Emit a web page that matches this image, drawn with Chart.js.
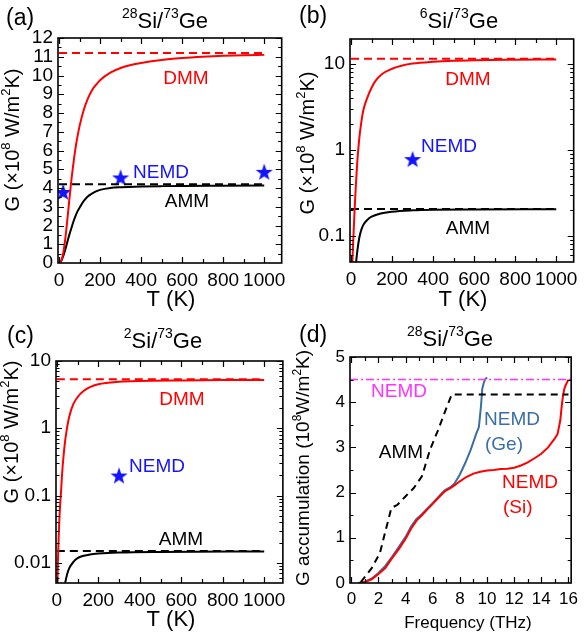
<!DOCTYPE html>
<html>
<head>
<meta charset="utf-8">
<script src="https://cdn.jsdelivr.net/npm/chart.js@4.4.1/dist/chart.umd.min.js"></script>
<style>
  html, body { margin: 0; padding: 0; background: #fff; }
  #wrap { position: relative; width: 584px; height: 640px; }
  canvas { position: absolute; }
</style>
</head>
<body>
<div id="wrap">
  <canvas id="panel-a" width="292" height="320" style="left:0;top:0"></canvas>
  <canvas id="panel-b" width="292" height="320" style="left:292px;top:0"></canvas>
  <canvas id="panel-c" width="292" height="320" style="left:0;top:320px"></canvas>
  <canvas id="panel-d" width="292" height="320" style="left:292px;top:320px"></canvas>
</div>
<script>
// ---- data ----
const tempTicks = [0, 200, 400, 600, 800, 1000];

// (a) 28Si/73Ge
const tDmmA = [0, 10, 20, 30, 40, 50, 60, 70, 80, 90, 100, 120, 140, 160, 180, 200, 250, 300, 350, 400, 500, 600, 700, 800, 900, 1000];
const dmmA = [0, 0.1, 0.5, 1.25, 2.25, 3.35, 4.4, 5.3, 6.1, 6.75, 7.3, 8.15, 8.75, 9.2, 9.5, 9.75, 10.15, 10.4, 10.56, 10.67, 10.83, 10.93, 11.0, 11.05, 11.08, 11.1];
const tAmmA = [0, 10, 20, 30, 40, 50, 60, 70, 80, 90, 100, 120, 140, 160, 180, 200, 250, 300, 400, 500, 600, 800, 1000];
const ammA = [0, 0.1, 0.35, 0.7, 1.1, 1.5, 1.85, 2.2, 2.5, 2.75, 2.95, 3.3, 3.55, 3.7, 3.82, 3.9, 4.0, 4.04, 4.08, 4.1, 4.11, 4.12, 4.13];
const dmmLimitA = 11.2, ammLimitA = 4.2;
const nemdTA = [20, 300, 1000];
const nemdA = [3.79, 4.56, 4.86];
const yTicksA = [0, 1, 2, 3, 4, 5, 6, 7, 8, 9, 10, 11, 12];

// (b) 6Si/73Ge
const tDmmB = [5, 10, 15, 20, 25, 30, 40, 50, 60, 80, 100, 120, 150, 200, 250, 300, 400, 500, 600, 800, 1000];
const dmmB = [0.04, 0.08, 0.15, 0.27, 0.44, 0.7, 1.35, 2.1, 2.9, 4.1, 5.3, 6.4, 7.6, 8.8, 9.6, 10.1, 10.6, 10.9, 11.05, 11.2, 11.3];
const tAmmB = [20, 25, 30, 40, 50, 60, 80, 100, 140, 200, 300, 400, 600, 1000];
const ammB = [0.035, 0.05, 0.065, 0.095, 0.118, 0.135, 0.155, 0.168, 0.182, 0.192, 0.199, 0.202, 0.204, 0.205];
const dmmLimitB = 11.5, ammLimitB = 0.207;
const nemdTB = [300];
const nemdB = [0.785];
const yTicksB = [0.1, 1, 10];

// (c) 2Si/73Ge
const tDmmC = [3, 5, 10, 15, 20, 25, 30, 40, 50, 60, 80, 100, 130, 160, 200, 300, 400, 600, 800, 1000];
const dmmC = [0.005, 0.01, 0.03, 0.065, 0.11, 0.2, 0.32, 0.65, 1.05, 1.5, 2.3, 2.9, 3.6, 4.1, 4.5, 4.9, 5.05, 5.15, 5.2, 5.2];
const tAmmC = [40, 50, 60, 80, 100, 130, 160, 200, 300, 500, 1000];
const ammC = [0.005, 0.0068, 0.0083, 0.0103, 0.0117, 0.0127, 0.0133, 0.0137, 0.0142, 0.0145, 0.0147];
const dmmLimitC = 5.36, ammLimitC = 0.0149;
const nemdTC = [300];
const nemdC = [0.198];
const yTicksC = [0.01, 0.1, 1, 10];

// (d) accumulation vs frequency
const freqGe = [0.5, 1.0, 1.5, 2.0, 2.5, 3.0, 3.5, 4.0, 4.4, 4.8, 5.2, 5.6, 6.0, 6.4, 6.8, 7.0, 7.3, 7.6, 8.0, 8.4, 8.8, 9.2, 9.4, 9.55, 9.65, 9.75, 9.85, 10.0];
const accGe = [0, 0.03, 0.1, 0.22, 0.38, 0.58, 0.8, 1.02, 1.25, 1.42, 1.52, 1.65, 1.77, 1.9, 2.03, 2.07, 2.12, 2.2, 2.4, 2.66, 2.95, 3.3, 3.45, 3.9, 4.3, 4.42, 4.5, 4.55];
const freqSi = [0.6, 1.0, 1.5, 2.0, 2.5, 3.0, 3.5, 4.0, 4.4, 4.8, 5.2, 5.6, 6.0, 6.4, 6.8, 7.0, 7.3, 7.6, 8.0, 8.5, 9.0, 9.5, 10.0, 10.5, 11.0, 11.5, 12.0, 12.5, 13.0, 13.5, 14.0, 14.5, 15.0, 15.2, 15.4, 15.5, 15.6, 15.7, 15.8, 16.0];
const accSi = [0, 0.02, 0.08, 0.2, 0.33, 0.55, 0.75, 0.98, 1.2, 1.38, 1.5, 1.63, 1.75, 1.88, 2.0, 2.05, 2.1, 2.16, 2.25, 2.35, 2.42, 2.46, 2.49, 2.5, 2.52, 2.53, 2.55, 2.6, 2.67, 2.76, 2.86, 3.0, 3.2, 3.3, 3.6, 3.9, 4.15, 4.3, 4.38, 4.5];
const freqAmm = [0.7, 0.9, 1.5, 2.1, 2.6, 2.95, 3.4, 4.0, 4.6, 5.2, 5.8, 6.4, 7.0, 7.4, 16.0];
const accAmm = [0.02, 0.1, 0.33, 0.66, 1.25, 1.66, 1.73, 1.92, 2.1, 2.36, 2.95, 3.39, 3.87, 4.17, 4.17];
const nemdLimitD = 4.5;
const freqTicks = [0, 2, 4, 6, 8, 10, 12, 14, 16];
const yTicksD = [0, 1, 2, 3, 4, 5];

// ---- helpers ----
const FONT = '"Liberation Sans", Arial, Helvetica, sans-serif';
Chart.defaults.font.family = FONT;
Chart.defaults.color = '#000';

const xy = (xs, ys) => xs.map((x, i) => ({ x: x, y: ys[i] }));

function curve(xs, ys, color, smooth) {
    return {
        data: xy(xs, ys), borderColor: color, borderWidth: 2, pointRadius: 0, fill: false,
        cubicInterpolationMode: smooth ? 'monotone' : 'default', tension: 0
    };
}

function dashed(x0, x1, y, color, dash, width) {
    return {
        data: [{ x: x0, y: y }, { x: x1, y: y }], borderColor: color, borderWidth: width || 2,
        borderDash: dash || [8, 5], pointRadius: 0, fill: false
    };
}

// filled five-point star used as point style
const starImg = document.createElement('canvas');
starImg.width = 18; starImg.height = 18;
(function () {
    const c = starImg.getContext('2d');
    c.fillStyle = '#1414ff';
    c.beginPath();
    for (let i = 0; i < 10; i++) {
        const r = i % 2 ? 3.6 : 9;
        const a = -Math.PI / 2 + i * Math.PI / 5;
        c.lineTo(9 + r * Math.cos(a), 9.8 + r * Math.sin(a));
    }
    c.closePath();
    c.fill();
})();

function stars(xs, ys) {
    return {
        data: xy(xs, ys), showLine: false, pointStyle: starImg, pointRadius: 7,
        borderColor: '#1414ff', backgroundColor: '#1414ff'
    };
}

function richText(ctx, t) {
    const size = t.size || 19;
    const sup = Math.round(size * 0.64);
    const parts = t.parts || [[t.text, false]];
    let w = 0;
    parts.forEach(p => {
        ctx.font = (p[1] ? sup : size) + 'px ' + FONT;
        w += ctx.measureText(p[0]).width;
    });
    ctx.save();
    ctx.translate(t.x, t.y);
    if (t.rot) ctx.rotate(t.rot);
    let x = t.align === 'left' ? 0 : -w / 2;
    ctx.fillStyle = t.color || '#000';
    ctx.textBaseline = 'middle';
    ctx.textAlign = 'left';
    parts.forEach(p => {
        ctx.font = (p[1] ? sup : size) + 'px ' + FONT;
        ctx.fillText(p[0], x, p[1] ? -size * 0.34 : 0);
        x += ctx.measureText(p[0]).width;
    });
    ctx.restore();
}

function minorValues(scale, step) {
    const out = [];
    if (step === 'log') {
        const lo = Math.floor(Math.log10(scale.min)), hi = Math.ceil(Math.log10(scale.max));
        for (let d = lo; d <= hi; d++) {
            for (let k = 1; k <= 9; k++) {
                const v = k * Math.pow(10, d);
                if (v >= scale.min && v <= scale.max) out.push(v);
            }
        }
        return out;
    }
    for (let v = Math.ceil(scale.min / step) * step; v <= scale.max + 1e-9; v += step) {
        out.push(Math.round(v * 1000) / 1000);
    }
    return out;
}

// frame, inward ticks on all four sides, and the texts
const decor = {
    id: 'decor',
    afterDraw(chart, args, o) {
        const ctx = chart.ctx, a = chart.chartArea;
        const xs = chart.scales.x, ys = chart.scales.y;
        ctx.save();
        ctx.strokeStyle = '#000';
        ctx.lineWidth = 1.2;
        ctx.beginPath();
        const xTick = (v, len) => {
            const px = Math.round(xs.getPixelForValue(v)) + 0.5;
            if (px < a.left || px > a.right) return;
            ctx.moveTo(px, a.bottom); ctx.lineTo(px, a.bottom - len);
            ctx.moveTo(px, a.top); ctx.lineTo(px, a.top + len);
        };
        const yTick = (v, len) => {
            const py = Math.round(ys.getPixelForValue(v)) + 0.5;
            if (py < a.top || py > a.bottom) return;
            ctx.moveTo(a.left, py); ctx.lineTo(a.left + len, py);
            ctx.moveTo(a.right, py); ctx.lineTo(a.right - len, py);
        };
        minorValues(xs, o.xMinor).forEach(v => xTick(v, 4));
        minorValues(ys, o.yMinor).forEach(v => yTick(v, 3.5));
        xs.ticks.forEach(t => xTick(t.value, 6));
        ys.ticks.forEach(t => yTick(t.value, 6));
        ctx.stroke();
        ctx.lineWidth = 1.6;
        ctx.strokeRect(a.left, a.top, a.right - a.left, a.bottom - a.top);
        ctx.restore();
        (o.texts || []).forEach(t => richText(ctx, t));
    }
};

function makePanel(id, p) {
    new Chart(document.getElementById(id), {
        type: 'line',
        data: { datasets: p.datasets },
        options: {
            responsive: false,
            animation: false,
            events: [],
            layout: { padding: { top: p.top, right: 292 - p.right, left: 0, bottom: 0 } },
            plugins: {
                legend: { display: false },
                tooltip: { enabled: false },
                decor: { texts: p.texts, xMinor: p.x.minor, yMinor: p.y.minor }
            },
            scales: {
                x: {
                    type: 'linear', min: p.x.min, max: p.x.max,
                    grid: { display: false, drawTicks: false }, border: { display: false },
                    ticks: { font: { size: p.fs }, padding: 6, maxRotation: 0, autoSkip: false, callback: v => String(v) },
                    afterBuildTicks: s => { s.ticks = p.x.ticks.map(v => ({ value: v })); },
                    afterFit: s => { s.height = 320 - p.bottom; }
                },
                y: {
                    type: p.y.type || 'linear', min: p.y.min, max: p.y.max,
                    grid: { display: false, drawTicks: false }, border: { display: false },
                    ticks: { font: { size: p.fs }, padding: 5, autoSkip: false, callback: v => String(v) },
                    afterBuildTicks: s => { s.ticks = p.y.ticks.map(v => ({ value: v })); },
                    afterFit: s => { s.width = p.left; }
                }
            }
        },
        plugins: [decor]
    });
}

const RED = '#ff0000', BLACK = '#000000', BLUE = '#1414ff', GE = '#3a6ea5', MAGENTA = '#ff33ff';
const yTitle = (x, y, size) => ({
    parts: [['G (\u00d710', false], ['8', true], [' W/m', false], ['2', true], ['K)', false]],
    x: x, y: y, size: size, rot: -Math.PI / 2
});
const tTitle = { text: 'T (K)', x: 171, y: 300, size: 22 };

makePanel('panel-a', {
    left: 58, right: 284, top: 38, bottom: 263, fs: 19,
    x: { min: -5, max: 1085, ticks: tempTicks, minor: 100 },
    y: { min: 0, max: 12, ticks: yTicksA, minor: 0.5 },
    datasets: [
        curve(tDmmA, dmmA, RED, true),
        curve(tAmmA, ammA, BLACK, true),
        dashed(0, 1000, dmmLimitA, RED),
        dashed(0, 1000, ammLimitA, BLACK),
        stars(nemdTA, nemdA)
    ],
    texts: [
        { text: '(a)', x: 6, y: 19, size: 23, align: 'left' },
        { parts: [['28', true], ['Si/', false], ['73', true], ['Ge', false]], x: 165, y: 22, size: 22 },
        yTitle(13, 140, 20), tTitle,
        { text: 'DMM', x: 186, y: 79, color: RED },
        { text: 'NEMD', x: 161, y: 173, color: BLUE },
        { text: 'AMM', x: 187, y: 202, color: BLACK }
    ]
});

makePanel('panel-b', {
    left: 58, right: 284, top: 39, bottom: 262, fs: 19,
    x: { min: -5, max: 1085, ticks: tempTicks, minor: 100 },
    y: { type: 'logarithmic', min: 0.05, max: 19.5, ticks: yTicksB, minor: 'log' },
    datasets: [
        curve(tDmmB, dmmB, RED, true),
        curve(tAmmB, ammB, BLACK, true),
        dashed(0, 1000, dmmLimitB, RED),
        dashed(0, 1000, ammLimitB, BLACK),
        stars(nemdTB, nemdB)
    ],
    texts: [
        { text: '(b)', x: 7, y: 17, size: 23, align: 'left' },
        { parts: [['6', true], ['Si/', false], ['73', true], ['Ge', false]], x: 167, y: 22, size: 22 },
        yTitle(16, 143, 20), tTitle,
        { text: 'DMM', x: 176, y: 80, color: RED },
        { text: 'NEMD', x: 157, y: 147, color: BLUE },
        { text: 'AMM', x: 176, y: 229, color: BLACK }
    ]
});

makePanel('panel-c', {
    left: 56, right: 284, top: 41, bottom: 263, fs: 19,
    x: { min: -4, max: 1090, ticks: tempTicks, minor: 100 },
    y: { type: 'logarithmic', min: 0.005, max: 10, ticks: yTicksC, minor: 'log' },
    datasets: [
        curve(tDmmC, dmmC, RED, true),
        curve(tAmmC, ammC, BLACK, true),
        dashed(0, 1000, dmmLimitC, RED),
        dashed(0, 1000, ammLimitC, BLACK),
        stars(nemdTC, nemdC)
    ],
    texts: [
        { text: '(c)', x: 7, y: 17, size: 23, align: 'left' },
        { parts: [['2', true], ['Si/', false], ['73', true], ['Ge', false]], x: 163, y: 22, size: 22 },
        yTitle(12, 112, 20), tTitle,
        { text: 'DMM', x: 182, y: 80, color: RED },
        { text: 'NEMD', x: 157, y: 147, color: BLUE },
        { text: 'AMM', x: 181, y: 220, color: BLACK }
    ]
});

makePanel('panel-d', {
    left: 58, right: 284, top: 37, bottom: 263, fs: 17,
    x: { min: -0.1, max: 16.2, ticks: freqTicks, minor: 1 },
    y: { min: 0, max: 5, ticks: yTicksD, minor: 0.5 },
    datasets: [
        dashed(-0.1, 16.2, nemdLimitD, MAGENTA, [8, 3, 2, 3], 1.5),
        { data: xy(freqAmm, accAmm), borderColor: BLACK, borderWidth: 2, borderDash: [7, 5], pointRadius: 0, fill: false },
        curve(freqSi, accSi, RED, false),
        curve(freqGe, accGe, GE, false)
    ],
    texts: [
        { text: '(d)', x: 7, y: 16, size: 23, align: 'left' },
        { parts: [['28', true], ['Si/', false], ['73', true], ['Ge', false]], x: 158, y: 20, size: 22 },
        { parts: [['G accumulation (10', false], ['8', true], ['W/m', false], ['2', true], ['K)', false]], x: 12, y: 148, size: 19, rot: -Math.PI / 2 },
        { text: 'Frequency (THz)', x: 176, y: 303, size: 17 },
        { text: 'NEMD', x: 107, y: 72, color: MAGENTA },
        { text: 'AMM', x: 109, y: 133, color: BLACK },
        { text: 'NEMD', x: 192, y: 100, color: GE, align: 'left' },
        { text: '(Ge)', x: 193, y: 125, color: GE, align: 'left' },
        { text: 'NEMD', x: 210, y: 163, color: RED, align: 'left' },
        { text: '(Si)', x: 211, y: 188, color: RED, align: 'left' }
    ]
});
</script>
</body>
</html>
